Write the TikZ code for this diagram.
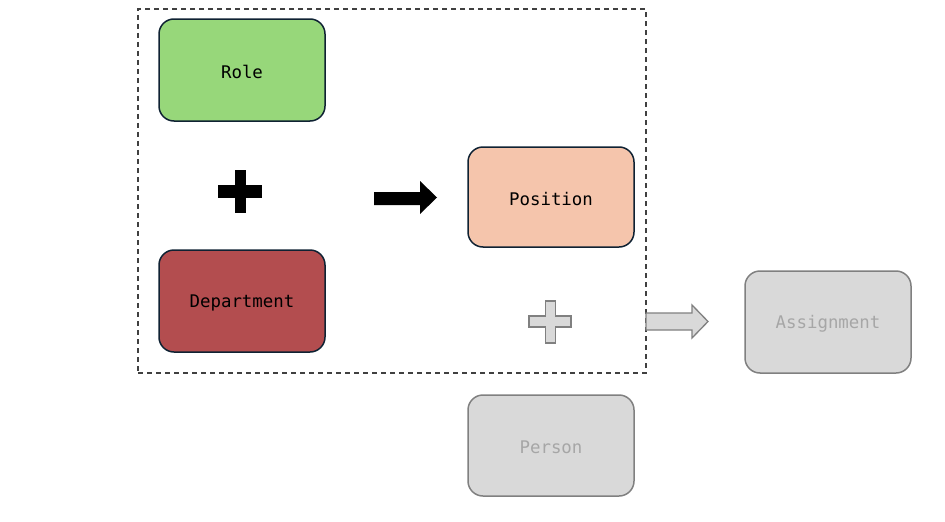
\documentclass[tikz,border=0pt]{standalone}
\usepackage{fontspec}
\setmonofont{DejaVu Sans Mono}
\definecolor{rolefill}{HTML}{97D77A}
\definecolor{deptfill}{HTML}{B34D4F}
\definecolor{posfill}{HTML}{F5C5AC}
\definecolor{boxedge}{HTML}{0F2233}
\definecolor{greyfill}{HTML}{D9D9D9}
\definecolor{greyedge}{HTML}{808080}
\definecolor{greytext}{HTML}{A6A6A6}
\newcommand{\lowtxt}[1]{\raisebox{-2pt}[\height][\depth]{#1}}
\tikzset{
  entity/.style={draw=boxedge, line width=1.5pt, rounded corners=15pt,
    minimum width=166pt, minimum height=102pt, inner sep=0pt,
    font=\fontsize{17.4}{20}\selectfont\ttfamily},
  ghost/.style={entity, draw=greyedge, fill=greyfill, text=greytext},
  frame/.style={draw=black!75, line width=1.3pt, dash pattern=on 5pt off 4pt},
}
\begin{document}
\begin{tikzpicture}[x=1pt,y=-1pt]
\useasboundingbox (0,0) rectangle (945,522);
\node[frame, minimum width=508pt, minimum height=364pt, inner sep=0pt] (grp) at (392,191) {};
\node[entity, fill=rolefill] (role) at (242,70) {\lowtxt{Role}};
\node[entity, fill=deptfill] (dept) at (242,301) {\lowtxt{Department}};
\node[entity, fill=posfill, minimum height=100pt] (pos) at (551,197) {\lowtxt{Position}};
\node[ghost] (asg) at (828,322) {\lowtxt{Assignment}};
\node[ghost, minimum height=101pt] (person) at (551,445.5) {\lowtxt{Person}};
% black plus
\fill[black] (234.5,170) rectangle (245.5,213);
\fill[black] (218,185) rectangle (262,198);
% black arrow
\fill[black] (374,192) -- (420,192) -- (420,181) -- (437,197.5) -- (420,214) -- (420,205) -- (374,205) -- cycle;
% grey plus
\draw[greyedge, fill=greyfill, line width=1.3pt]
  (545.5,301) -- (555.5,301) -- (555.5,316) -- (571,316) -- (571,327) -- (555.5,327) -- (555.5,343)
  -- (545.5,343) -- (545.5,327) -- (529,327) -- (529,316) -- (545.5,316) -- cycle;
% grey arrow
\draw[greyedge, fill=greyfill, line width=1.3pt]
  (646,313) -- (692,313) -- (692,305) -- (708,321.5) -- (692,338) -- (692,330) -- (646,330) -- cycle;
\end{tikzpicture}
\end{document}
